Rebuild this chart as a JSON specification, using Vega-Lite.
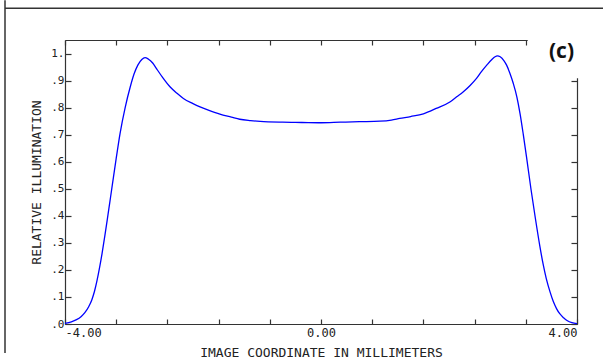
{
  "$schema": "https://vega.github.io/schema/vega-lite/v6.json",
  "width": 512,
  "height": 284,
  "autosize": {"type": "none"},
  "padding": {"left": 65, "top": 40, "right": 26, "bottom": 39},
  "background": "white",
  "config": {
    "view": {"stroke": null},
    "axis": {
      "grid": false,
      "domainColor": "#333333",
      "domainWidth": 1.2,
      "tickColor": "#333333",
      "tickWidth": 1.2,
      "labelColor": "#222222",
      "titleColor": "#222222",
      "labelFont": "DejaVu Sans Mono",
      "titleFont": "DejaVu Sans Mono",
      "titleFontWeight": "normal"
    }
  },
  "datasets": {
    "curve": [
      {"v": -4.0, "u": 0.002}, {"v": -3.9, "u": 0.008}, {"v": -3.82, "u": 0.016}, {"v": -3.75, "u": 0.027},
      {"v": -3.69, "u": 0.042}, {"v": -3.63, "u": 0.064}, {"v": -3.58, "u": 0.09}, {"v": -3.54, "u": 0.12},
      {"v": -3.5, "u": 0.16}, {"v": -3.46, "u": 0.208}, {"v": -3.42, "u": 0.262}, {"v": -3.38, "u": 0.322},
      {"v": -3.34, "u": 0.385}, {"v": -3.3, "u": 0.45}, {"v": -3.26, "u": 0.515}, {"v": -3.2, "u": 0.612},
      {"v": -3.14, "u": 0.704}, {"v": -3.06, "u": 0.8}, {"v": -2.98, "u": 0.877}, {"v": -2.92, "u": 0.925},
      {"v": -2.86, "u": 0.958}, {"v": -2.8, "u": 0.978}, {"v": -2.75, "u": 0.985}, {"v": -2.7, "u": 0.98},
      {"v": -2.63, "u": 0.965}, {"v": -2.57, "u": 0.944}, {"v": -2.47, "u": 0.91}, {"v": -2.36, "u": 0.877},
      {"v": -2.25, "u": 0.853}, {"v": -2.15, "u": 0.834}, {"v": -2.0, "u": 0.815}, {"v": -1.89, "u": 0.803},
      {"v": -1.75, "u": 0.79}, {"v": -1.58, "u": 0.776}, {"v": -1.4, "u": 0.765}, {"v": -1.27, "u": 0.757},
      {"v": -1.1, "u": 0.752}, {"v": -0.95, "u": 0.749}, {"v": -0.6, "u": 0.746}, {"v": -0.3, "u": 0.745},
      {"v": 0.0, "u": 0.744}, {"v": 0.3, "u": 0.746}, {"v": 0.6, "u": 0.748}, {"v": 0.92, "u": 0.75},
      {"v": 1.1, "u": 0.754}, {"v": 1.23, "u": 0.76}, {"v": 1.4, "u": 0.767}, {"v": 1.6, "u": 0.777},
      {"v": 1.8, "u": 0.797}, {"v": 2.02, "u": 0.822}, {"v": 2.12, "u": 0.84}, {"v": 2.22, "u": 0.858},
      {"v": 2.33, "u": 0.882}, {"v": 2.43, "u": 0.908}, {"v": 2.51, "u": 0.934}, {"v": 2.59, "u": 0.957},
      {"v": 2.67, "u": 0.978}, {"v": 2.72, "u": 0.988}, {"v": 2.755, "u": 0.991}, {"v": 2.8, "u": 0.988},
      {"v": 2.86, "u": 0.973}, {"v": 2.9, "u": 0.957}, {"v": 2.95, "u": 0.928}, {"v": 3.005, "u": 0.889},
      {"v": 3.06, "u": 0.84}, {"v": 3.11, "u": 0.778}, {"v": 3.16, "u": 0.702}, {"v": 3.21, "u": 0.62},
      {"v": 3.28, "u": 0.5}, {"v": 3.35, "u": 0.39}, {"v": 3.42, "u": 0.287}, {"v": 3.47, "u": 0.222},
      {"v": 3.52, "u": 0.168}, {"v": 3.58, "u": 0.118}, {"v": 3.63, "u": 0.083}, {"v": 3.68, "u": 0.057},
      {"v": 3.73, "u": 0.038}, {"v": 3.79, "u": 0.023}, {"v": 3.85, "u": 0.012}, {"v": 3.92, "u": 0.005},
      {"v": 4.0, "u": 0.001}
    ]
  },
  "layer": [
    {
      "data": {"name": "curve"},
      "mark": {"type": "line", "color": "#0000ff", "strokeWidth": 1.3, "interpolate": "monotone"},
      "encoding": {
        "x": {
          "field": "v", "type": "quantitative",
          "scale": {"domain": [-4, 4], "nice": false, "zero": false},
          "axis": {
            "orient": "bottom",
            "values": [-4, -3.2, -2.4, -1.6, -0.8, 0, 0.8, 1.6, 2.4, 3.2, 4],
            "tickSize": -5,
            "labelFlush": true,
            "labelExpr": "datum.value == -4 ? '-4.00' : datum.value == 0 ? '0.00' : datum.value == 4 ? '4.00' : ''",
            "labelFontSize": 12,
            "labelPadding": 8,
            "title": "IMAGE COORDINATE IN MILLIMETERS",
            "titleFontSize": 13,
            "titlePadding": 8
          }
        },
        "y": {
          "field": "u", "type": "quantitative",
          "scale": {"domain": [0, 1.05], "nice": false, "zero": false},
          "axis": {
            "orient": "left",
            "values": [0, 0.1, 0.2, 0.3, 0.4, 0.5, 0.6, 0.7, 0.8, 0.9, 1.0],
            "tickSize": -6,
            "labelExpr": "datum.value >= 0.99 ? '1.' : '.' + round(datum.value * 10)",
            "labelFontSize": 11,
            "labelPadding": 7,
            "title": "RELATIVE ILLUMINATION",
            "titleFontSize": 13,
            "titlePadding": 7
          }
        }
      }
    },
    {
      "data": {"name": "curve"},
      "mark": {"type": "line", "strokeOpacity": 0},
      "encoding": {
        "x": {
          "field": "v", "type": "quantitative",
          "axis": {
            "orient": "top",
            "values": [-4, -3.2, -2.4, -1.6, -0.8, 0, 0.8, 1.6, 2.4, 3.2, 4],
            "tickSize": -5,
            "labels": false,
            "title": null
          }
        },
        "y": {
          "field": "u", "type": "quantitative",
          "axis": {
            "orient": "right",
            "values": [0, 0.1, 0.2, 0.3, 0.4, 0.5, 0.6, 0.7, 0.8, 0.9, 1.0],
            "tickSize": -6,
            "labels": false,
            "title": null
          }
        }
      }
    },
    {
      "data": {"values": [{}]},
      "mark": {"type": "rect", "fill": "white", "clip": false},
      "encoding": {
        "x": {"datum": 3.23, "type": "quantitative", "axis": null},
        "x2": {"datum": 4.5},
        "y": {"datum": 0.909, "type": "quantitative", "axis": null},
        "y2": {"datum": 1.1}
      }
    },
    {
      "data": {"values": [{}]},
      "mark": {"type": "text", "text": "(c)", "font": "Open Sans", "fontWeight": "bold", "fontSize": 21, "align": "center", "baseline": "middle", "color": "#111111"},
      "encoding": {
        "x": {"datum": 3.758, "type": "quantitative", "axis": null},
        "y": {"datum": 1.006, "type": "quantitative", "axis": null}
      }
    },
    {
      "data": {"values": [{}]},
      "mark": {"type": "rule", "color": "#333333", "strokeWidth": 1.5},
      "encoding": {
        "x": {"datum": -4.9375, "type": "quantitative", "axis": null},
        "y": {"datum": 1.197, "type": "quantitative", "axis": null},
        "y2": {"datum": -0.107}
      }
    },
    {
      "data": {"values": [{}]},
      "mark": {"type": "rule", "color": "#333333", "strokeWidth": 1.5},
      "encoding": {
        "x": {"datum": -4.9375, "type": "quantitative", "axis": null},
        "x2": {"datum": 4.42},
        "y": {"datum": 1.1673, "type": "quantitative", "axis": null}
      }
    }
  ],
  "resolve": {"axis": {"x": "independent", "y": "independent"}}
}
